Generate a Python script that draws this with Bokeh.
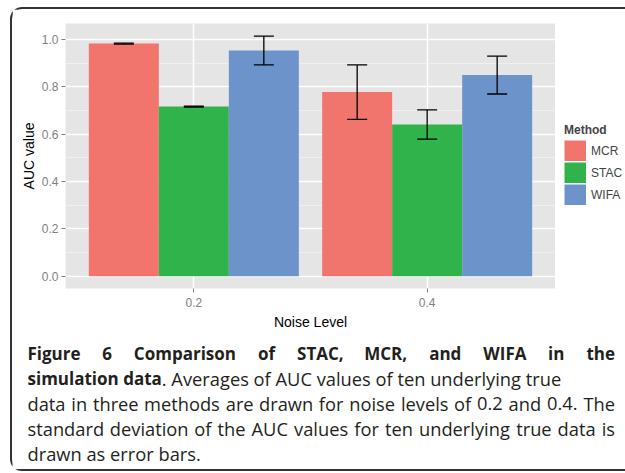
import subprocess, glob, os
from bokeh.plotting import figure
from bokeh.layouts import column, row
from bokeh.models import (ColumnDataSource, Whisker, TeeHead, Legend, LegendItem,
                          FixedTicker, SingleIntervalTicker, PrintfTickFormatter, Range1d)
from bokeh.core.properties import value
from bokeh.embed import file_html
from bokeh.resources import INLINE

# ---------------- data ----------------
noise_levels = ["0.2", "0.4"]
methods = ["MCR", "STAC", "WIFA"]
colors = ["#F1756D", "#2FB34A", "#6C93CA"]
mcr_mean = [0.983, 0.778]
stac_mean = [0.717, 0.641]
wifa_mean = [0.954, 0.850]
mcr_sd = [0.002, 0.115]
stac_sd = [0.002, 0.062]
wifa_sd = [0.061, 0.080]
y_ticks_interval = 0.2

caption_lines = [
    ("Figure 6 Comparison of STAC, MCR, and WIFA in the", None),
    ("simulation data", ". Averages of AUC values of ten underlying true"),
    (None, "data in three methods are drawn for noise levels of 0.2 and 0.4. The"),
    (None, "standard deviation of the AUC values for ten underlying true data is"),
    (None, "drawn as error bars."),
]
justify_lines = [True, False, True, True, False]

means = [mcr_mean, stac_mean, wifa_mean]
sds = [mcr_sd, stac_sd, wifa_sd]

# ---------------- layout constants (page px) ----------------
OX, OY = 12, 9               # content origin inside the rounded frame
CW = 613                     # content width
CH1, CH2 = 329, 131          # chart / caption heights
FL, FR, FT, FB = 65, 555, 23, 288
LEG_X, LEG_BOTTOM = 564, 205
CAP_L, CAP_R = 27, 614.5
CAP_BASE = [353, 378, 403, 428, 453]
SIZE_BOLD, SIZE_REG = 17, 18.3
DODGE = 0.9

p = figure(width=FR - OX, height=CH1, x_range=(0.45, 2.55), y_range=(-0.052, 1.068),
           output_backend="svg", toolbar_location=None, frame_align=False,
           min_border_left=FL - OX, min_border_right=0,
           min_border_top=FT - OY, min_border_bottom=OY + CH1 - FB)
p.background_fill_color = "#E5E5E5"
p.border_fill_color = "white"
p.outline_line_color = None

# grids
p.xgrid.ticker = FixedTicker(ticks=[i + 1 for i in range(len(noise_levels))])
p.xgrid.grid_line_color = "white"
p.xgrid.grid_line_width = 1.5
yt = SingleIntervalTicker(interval=y_ticks_interval, num_minor_ticks=2)
p.yaxis.ticker = yt
p.ygrid.ticker = yt
p.ygrid.grid_line_color = "white"
p.ygrid.grid_line_width = 1.5
p.ygrid.minor_grid_line_color = "#F3F3F3"
p.ygrid.minor_grid_line_width = 0.8

# axes
p.xaxis.ticker = FixedTicker(ticks=[i + 1 for i in range(len(noise_levels))])
p.xaxis.major_label_overrides = {i + 1: lab for i, lab in enumerate(noise_levels)}
p.yaxis.formatter = PrintfTickFormatter(format="%.1f")
for ax in (p.xaxis, p.yaxis):
    ax.axis_line_color = None
    ax.major_tick_line_color = "#7F7F7F"
    ax.major_tick_out = 4
    ax.major_tick_in = 0
    ax.minor_tick_line_color = None
    ax.major_label_text_color = "#7F7F7F"
    ax.major_label_text_font = "Liberation Sans"
    ax.major_label_text_font_size = "12px"
    ax.axis_label_text_font = "Liberation Sans"
    ax.axis_label_text_font_size = "14px"
    ax.axis_label_text_font_style = "normal"
    ax.axis_label_text_color = "black"
p.xaxis.axis_label = "Noise Level"
p.yaxis.axis_label = "AUC value"
p.xaxis.major_label_standoff = 5
p.xaxis.axis_label_standoff = 4
p.yaxis.major_label_standoff = 3
p.yaxis.axis_label_standoff = 2

# legend figure (sits to the right of the plot panel)
lg = figure(width=OX + CW - FR, height=CH1, x_range=(0, 1), y_range=(0, 1),
            output_backend="svg", toolbar_location=None, min_border=0, frame_align=False,
            x_axis_location=None, y_axis_location=None)
lg.xgrid.visible = False
lg.ygrid.visible = False
lg.outline_line_color = None

# bars + error bars
bw = DODGE / len(methods)
items = []
for i, m in enumerate(methods):
    xs = [g + 1 + (i - (len(methods) - 1) / 2) * bw for g in range(len(noise_levels))]
    src = ColumnDataSource(dict(
        x=xs, top=means[i],
        upper=[a + b for a, b in zip(means[i], sds[i])],
        lower=[a - b for a, b in zip(means[i], sds[i])]))
    p.vbar(x="x", top="top", bottom=0, width=bw, source=src, fill_color=colors[i], line_color=None)
    p.add_layout(Whisker(base="x", upper="upper", lower="lower", source=src, dimension="height",
                         line_color="black", line_width=1.3, level="annotation",
                         upper_head=TeeHead(size=20, line_color="black", line_width=1.3),
                         lower_head=TeeHead(size=20, line_color="black", line_width=1.3)))
    key = lg.line(x=[float("nan")], y=[float("nan")], line_color=colors[i], line_width=21, line_cap="butt")
    items.append(LegendItem(label=m, renderers=[key]))

legend = Legend(items=items, location=(LEG_X - FR, OY + CH1 - LEG_BOTTOM), title="Method",
                title_text_font="Liberation Sans", title_text_font_style="bold", title_text_font_size="12px",
                label_text_font="Liberation Sans", label_text_font_size="12px",
                glyph_width=22, glyph_height=21, label_height=21, spacing=1, padding=0,
                margin=0, label_standoff=5, title_standoff=3,
                border_line_color=None, background_fill_alpha=0)
lg.add_layout(legend)

# ---------------- caption figure ----------------
top2 = OY + CH1
c = figure(width=CW, height=CH2, x_range=Range1d(OX, OX + CW), y_range=Range1d(top2 + CH2, top2),
           output_backend="svg", toolbar_location=None, min_border=0, frame_align=False,
           x_axis_location=None, y_axis_location=None)
c.xgrid.visible = False
c.ygrid.visible = False
c.outline_line_color = None
c.background_fill_color = "white"
c.border_fill_color = "white"

_fonts = {}


def _find_font(bold):
    cands = []
    try:
        out = subprocess.run(["fc-list", ":family=Open Sans", "file"], capture_output=True, text=True, timeout=10).stdout
        cands += [ln.split(":")[0].strip() for ln in out.splitlines() if ln.strip()]
    except Exception:
        pass
    for pat in ["/usr/share/fonts/**/OpenSans*", "/usr/local/share/fonts/**/OpenSans*",
                os.path.expanduser("~/.fonts/**/OpenSans*"), os.path.expanduser("~/.local/share/fonts/**/OpenSans*")]:
        cands += glob.glob(pat, recursive=True)
    cands = [x for x in cands if x.lower().endswith((".ttf", ".otf"))]
    cands = [x for x in cands if "italic" not in os.path.basename(x).lower()]
    want = "-bold." if bold else "-regular."
    for x in cands:
        if want in os.path.basename(x).lower():
            return x, None
    for x in cands:
        if "[" in os.path.basename(x):
            return x, ("Bold" if bold else "Regular")
    return None, None


def measure(text, bold):
    if bold not in _fonts:
        try:
            from PIL import ImageFont
            path, var = _find_font(bold)
            f = ImageFont.truetype(path, 100)
            if var:
                try:
                    f.set_variation_by_name(var)
                except Exception:
                    pass
            _fonts[bold] = f
        except Exception:
            _fonts[bold] = None
    f = _fonts[bold]
    if f is None:
        return None
    return f.getlength(text) / 100.0 * (SIZE_BOLD if bold else SIZE_REG)


runs = {True: dict(x=[], y=[], text=[]), False: dict(x=[], y=[], text=[])}


def add_text(x, y, text, bold):
    runs[bold]["x"].append(x)
    runs[bold]["y"].append(y)
    runs[bold]["text"].append(text)


def justified(text, bold, y):
    words = text.split(" ")
    widths = [measure(w, bold) for w in words]
    if any(w is None for w in widths):
        add_text(CAP_L, y, text, bold)
        return
    gap = max((CAP_R - CAP_L - sum(widths)) / (len(words) - 1), 2.0)
    x = CAP_L
    for w, wd in zip(words, widths):
        add_text(x, y, w, bold)
        x += wd + gap


for (bold_part, reg_part), y, just in zip(caption_lines, CAP_BASE, justify_lines):
    if bold_part and not reg_part:
        if just:
            justified(bold_part, True, y)
        else:
            add_text(CAP_L, y, bold_part, True)
    elif reg_part and not bold_part:
        if just:
            justified(reg_part, False, y)
        else:
            add_text(CAP_L, y, reg_part, False)
    else:
        add_text(CAP_L, y, bold_part, True)
        wb = measure(bold_part, True)
        if wb is None:
            wb = len(bold_part) * SIZE_BOLD * 0.6
        add_text(CAP_L + wb, y, reg_part, False)

for bold, d in runs.items():
    if d["text"]:
        c.text(x=d["x"], y=d["y"], text=d["text"], text_font=value("Open Sans"),
               text_font_size=f"{SIZE_BOLD if bold else SIZE_REG}px",
               text_font_style="bold" if bold else "normal",
               text_color="#231F20", text_align="left", text_baseline="alphabetic")

layout = column(row(p, lg, spacing=0), c, spacing=0)
layout.margin = (7, 0, 0, 10)
layout.styles = {"border-top": "2px solid #333333", "border-left": "2px solid #333333",
                 "border-bottom": "2px solid #333333", "border-right": "0px none",
                 "border-top-left-radius": "12px", "border-bottom-left-radius": "12px",
                 "border-top-right-radius": "0px", "border-bottom-right-radius": "0px"}

open("out.html", "w").write(file_html(layout, INLINE))
